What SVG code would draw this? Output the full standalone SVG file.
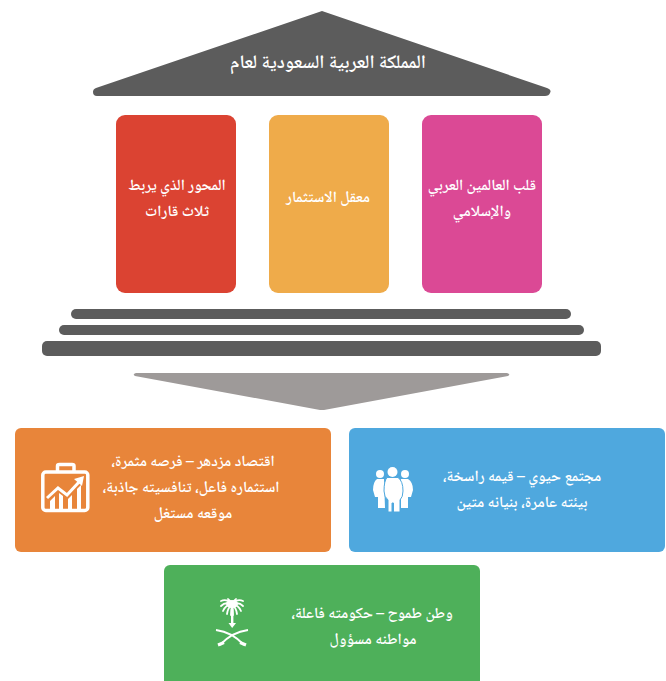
<svg xmlns="http://www.w3.org/2000/svg" width="666" height="681" viewBox="0 0 666 681">
<style>
text{font-family:"Noto Naskh Arabic","Noto Sans",sans-serif;fill:#fff;text-anchor:middle;font-weight:600;direction:rtl}
.t{font-size:15.500px}
.h{font-size:19px}
.d{fill:#5c5c5c}
.w{fill:#fff}
.ws{fill:none;stroke:#fff}
</style>
<rect width="666" height="681" fill="#fff"/>
<g id="roof"><path class="d" d="M322 11 L547 88 Q552 90 550 93 Q549 96 545 96 L97 96 Q93 96 93 92 Q93 89 96 88 Z"/>
<text class="h" x="328" y="68">المملكة العربية السعودية لعام</text></g>
<g id="pillar-red"><rect x="116" y="115" width="120" height="178" rx="9" fill="#db4332"/>
<text class="t" x="177" y="190">المحور الذي يربط</text><text class="t" x="177" y="216">ثلاث قارات</text></g>
<g id="pillar-amber"><rect x="269" y="115" width="120" height="178" rx="9" fill="#efab4a"/>
<text class="t" x="328" y="202">معقل الاستثمار</text></g>
<g id="pillar-pink"><rect x="422" y="115" width="120" height="178" rx="9" fill="#db4995"/>
<text class="t" x="482" y="190">قلب العالمين العربي</text><text class="t" x="482" y="216">والإسلامي</text></g>
<g id="steps"><rect class="d" x="71" y="309" width="500" height="10" rx="5"/><rect class="d" x="59" y="325" width="525" height="10" rx="5"/><rect class="d" x="42" y="341" width="559" height="15" rx="5"/></g>
<g id="arrow"><path fill="#9e9a99" d="M136 373 L507 373 Q511 374 508 376 L324 410 Q322 410 320 410 L135 376 Q132 374 136 373Z"/></g>
<g id="economy"><rect x="15" y="428" width="316" height="124" rx="6" fill="#e8853a"/>
<path class="ws" stroke-width="3.500" d="M57.500 472 V466 Q57.500 464.500 59.500 464.500 H72 Q74 464.500 74 466 V472"/><rect class="ws" x="42.800" y="472" width="45" height="38.500" rx="3" stroke-width="3.500"/>
<path class="ws" stroke-width="3" d="M47 498 L58 488 L67 495 L79 482"/><path class="w" d="M74 479 L84 476 L82 486Z"/><path class="w" d="M50 509V501L55 496V509ZM59 509V493L63 496V509ZM68 509V499L72 495V509ZM77 509V489L81 485V509Z"/>
<text class="t" x="193" y="466">اقتصاد مزدهر – فرصه مثمرة،</text><text class="t" x="191" y="492">استثماره فاعل، تنافسيته جاذبة،</text><text class="t" x="193" y="518">موقعه مستغل</text></g>
<g id="society"><rect x="349" y="428" width="316" height="124" rx="6" fill="#4fa8de"/>
<g class="w"><circle cx="380" cy="474" r="4"/><circle cx="405" cy="474" r="4"/><path d="M377 479 H384 L385 508 H378 V497 H375 L373 490 Q373 482 377 479Z"/><path d="M401 479 H408 Q413 482 413 490 L411 497 H408 V508 H401 Z"/><circle cx="392.500" cy="472" r="5"/><path d="M387 477.500 H398 Q403 481 403 491 Q403 497 400 500 V512 H393.500 V503 H392 V512 H388 V500 Q384 497 384 491 Q384 481 387 477.500Z" stroke="#4fa8de" stroke-width="1"/></g>
<text class="t" x="522" y="481">مجتمع حيوي – قيمه راسخة،</text><text class="t" x="522" y="507">بيئته عامرة، بنيانه متين</text></g>
<g id="nation"><rect x="164" y="565" width="316" height="124" rx="6" fill="#4eb05a"/>
<g class="w"><rect x="231" y="605" width="2.400" height="19"/><path d="M228.500 623 H236 L232.200 628Z"/><ellipse cx="232" cy="604" rx="6" ry="4"/></g>
<path class="ws" stroke-width="1.800" stroke-linecap="round" d="M232 605 Q227 598 221 601M232 605 Q226 601 221 606M232 605 Q226 604 223 611M232 605 Q228 607 227 614M232 606 Q231 610 231 615M232 605 Q237 598 243 601M232 605 Q238 601 243 606M232 605 Q238 604 241 611M232 605 Q236 607 237 614M232 606 Q233 610 233 615M232 604 Q230 600 228 599M232 604 Q234 600 236 599"/>
<path class="ws" stroke-width="2" d="M216 630 Q232 632 244 645M248 630 Q232 632 220 645"/><path class="ws" stroke-width="3" d="M218 645 l6 -2.500M246 645 l-6 -2.500"/>
<text class="t" x="372" y="618">وطن طموح – حكومته فاعلة،</text><text class="t" x="373" y="644">مواطنه مسؤول</text></g>
</svg>
